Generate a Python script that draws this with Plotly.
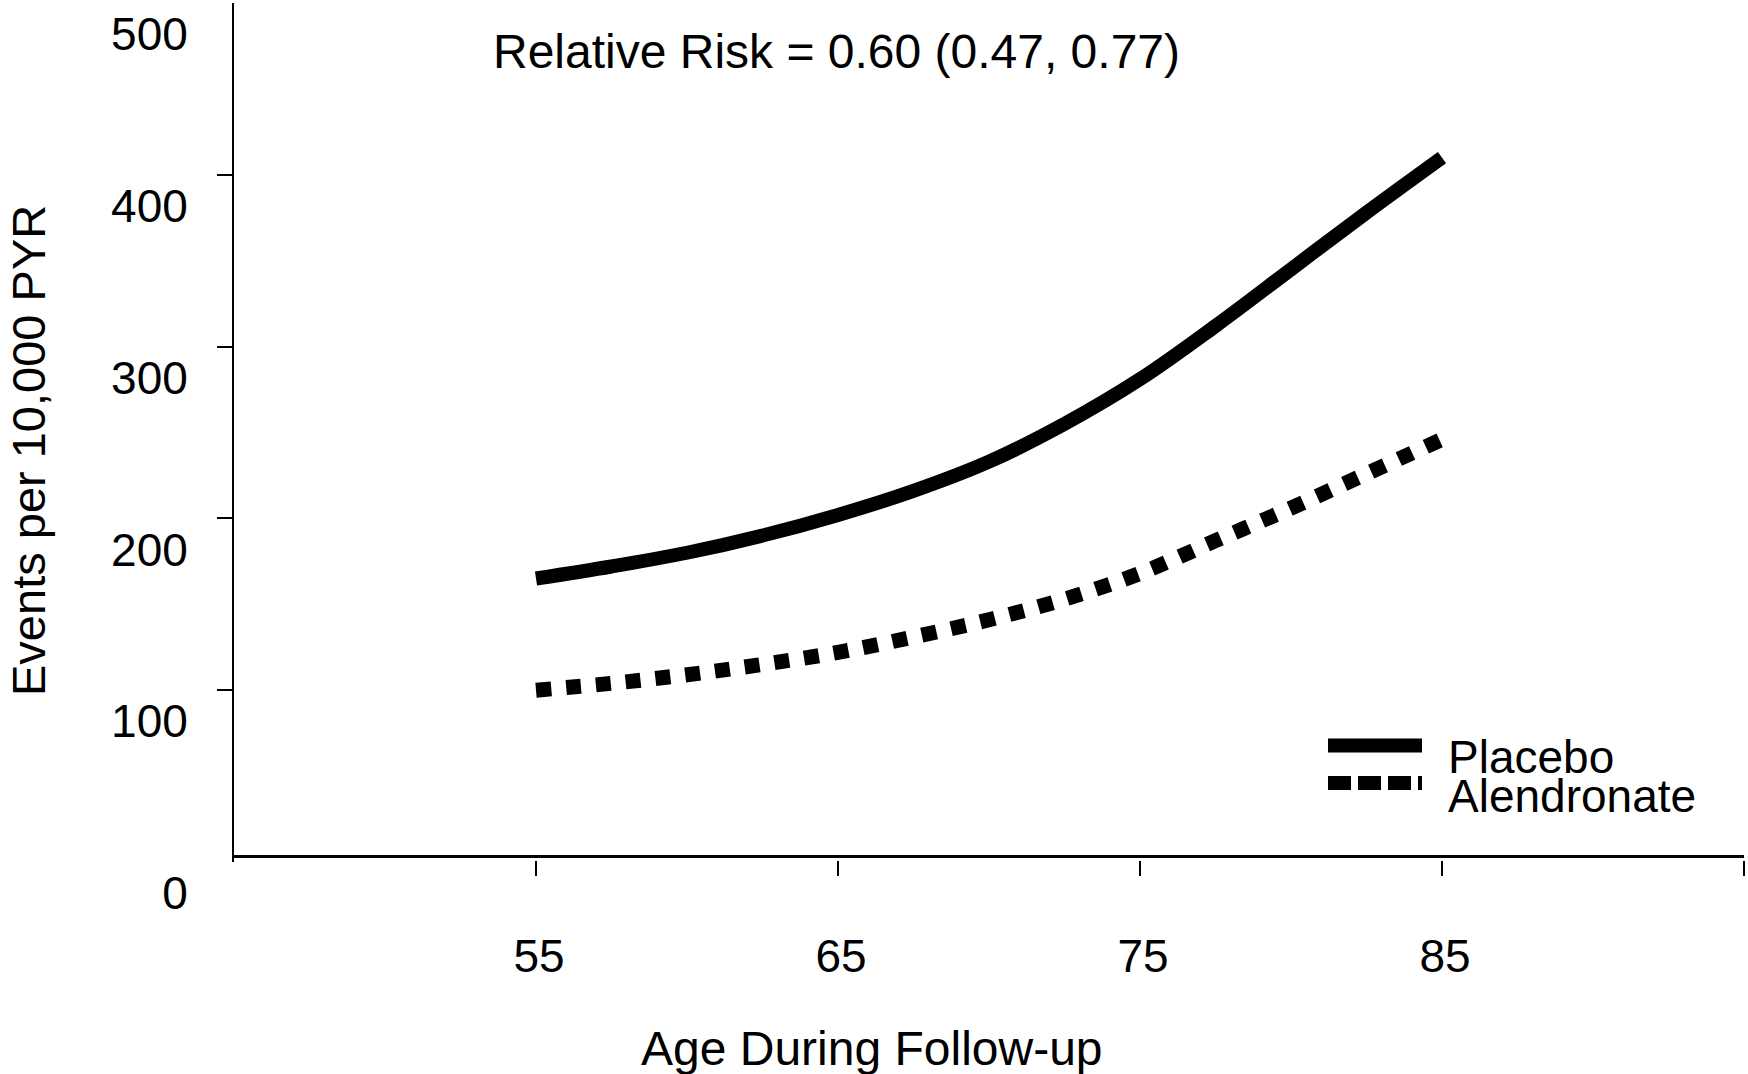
import plotly.graph_objects as go

# ---- data ----
ages = [55, 57.5, 60, 62.5, 65, 67.5, 70, 72.5, 75, 77.5, 80, 82.5, 85]
placebo = [165, 172, 180, 190, 202, 216, 233, 255, 281, 312, 345, 378, 410]
alendronate = [100, 104, 109, 115, 122, 131, 141, 153, 168, 187, 206, 226, 246]

x_tickvals = [55, 65, 75, 85]
x_ticktext = ["55", "65", "75", "85"]
x_tickmarks = [55, 65, 75, 85, 95]
y_tickvals = [0, 100, 200, 300, 400, 500]
y_ticktext = ["0", "100", "200", "300", "400", "500"]
y_tickmarks = [100, 200, 300, 400]

FONT = "Arial, 'Liberation Sans', sans-serif"
W, H = 1748, 1074
L, R, T, B = 234, 4, 3, 212
pw, ph = W - L - R, H - T - B


def px(xpix):
    return (xpix - L) / pw


def py(ypix):
    return (H - B - ypix) / ph


fig = go.Figure()
fig.add_trace(go.Scatter(x=ages, y=placebo, mode="lines", name="Placebo",
                         line=dict(color="black", width=14, shape="spline"),
                         showlegend=False, xaxis="x", yaxis="y"))
fig.add_trace(go.Scatter(x=ages, y=alendronate, mode="lines", name="Alendronate",
                         line=dict(color="black", width=15, dash="dot", shape="spline"),
                         showlegend=False, xaxis="x2", yaxis="y2"))

fig.update_layout(
    width=W, height=H,
    margin=dict(l=L, r=R, t=T, b=B, pad=0),
    paper_bgcolor="white", plot_bgcolor="white",
    font=dict(family=FONT, color="black", size=46),
    xaxis=dict(range=[45, 95], anchor="free", position=py(856),
               showline=True, linecolor="black", linewidth=3,
               showgrid=False, zeroline=False, ticks="",
               tickvals=x_tickvals, ticktext=x_ticktext,
               tickfont=dict(size=46), ticklabelstandoff=59, ticklabelshift=3),
    xaxis2=dict(range=[45, 95], overlaying="x", anchor="free", position=py(860),
                showline=False, showgrid=False, zeroline=False,
                ticks="outside", ticklen=15, tickwidth=2, tickcolor="black",
                tickvals=x_tickmarks, showticklabels=False),
    yaxis=dict(range=[0, 500], anchor="x", side="left",
               showline=True, linecolor="black", linewidth=2,
               showgrid=False, zeroline=False, ticks="",
               tickvals=y_tickvals, ticktext=y_ticktext,
               tickfont=dict(size=46), ticklabelshift=31, ticklabelstandoff=35),
    yaxis2=dict(range=[0, 500], overlaying="y", anchor="x", side="left",
                showline=False, showgrid=False, zeroline=False,
                ticks="outside", ticklen=16, tickwidth=2, tickcolor="black",
                tickvals=y_tickmarks, showticklabels=False),
)

annotations = [
    dict(text="Relative Risk = 0.60 (0.47, 0.77)", x=px(836), y=py(52),
         xanchor="center", yanchor="middle", font=dict(size=48)),
    dict(text="Age During Follow-up", x=px(872), y=py(1048),
         xanchor="center", yanchor="middle", font=dict(size=48)),
    dict(text="Events per 10,000 PYR", x=px(29), y=py(451), textangle=-90,
         xanchor="center", yanchor="middle", font=dict(size=47), borderpad=0),
    dict(text="Placebo", x=px(1447), y=py(757), xanchor="left", yanchor="middle",
         font=dict(size=46), borderpad=0),
    dict(text="Alendronate", x=px(1447), y=py(795.5), xanchor="left", yanchor="middle",
         font=dict(size=46), borderpad=0),
]
for a in annotations:
    a.update(xref="paper", yref="paper", showarrow=False)
fig.update_layout(annotations=annotations)

fig.add_shape(type="line", xref="paper", yref="paper",
              x0=px(1328), x1=px(1422), y0=py(745.5), y1=py(745.5),
              line=dict(color="black", width=14))
fig.add_shape(type="line", xref="paper", yref="paper",
              x0=px(1328), x1=px(1422), y0=py(783), y1=py(783),
              line=dict(color="black", width=14, dash="23px,7px"))

fig.write_html("out.html", config={"displayModeBar": False},
               post_script="document.body.style.margin='0';document.body.style.overflow='hidden';")
